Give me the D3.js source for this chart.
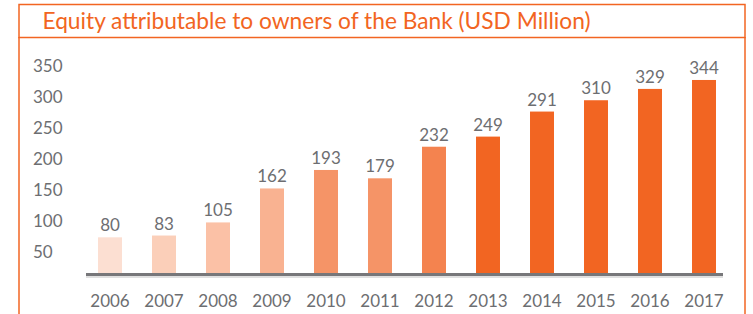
<!DOCTYPE html>
<html>
<head>
<meta charset="utf-8">
<script src="https://cdn.jsdelivr.net/npm/d3@7/dist/d3.min.js"></script>
<style>
  html, body { margin: 0; padding: 0; background: #ffffff; }
  svg { display: block; }
</style>
</head>
<body>
<script>
const titleText = "Equity attributable to owners of the Bank (USD Million)";
const years = ["2006","2007","2008","2009","2010","2011","2012","2013","2014","2015","2016","2017"];
const equity = [80, 83, 105, 162, 193, 179, 232, 249, 291, 310, 329, 344];
const barColors = ["#fcdfd2","#fbcfb9","#fbc1a6","#f9b291","#f59467","#f59467","#f4834f","#f26522","#f26522","#f26522","#f26522","#f26522"];
const yTickLabels = [50, 100, 150, 200, 250, 300, 350];

const W = 753, H = 314;
const orange = "#f26522";
const gray = "#6d6e71";
const font = "Lato, 'Liberation Sans', sans-serif";

const svg = d3.select("body").append("svg").attr("width", W).attr("height", H);

// frame
svg.append("rect").attr("x", 19).attr("y", 4.5).attr("width", 726).attr("height", 33)
  .attr("fill", "none").attr("stroke", orange).attr("stroke-width", 1.5);
svg.append("line").attr("x1", 19).attr("x2", 19).attr("y1", 37).attr("y2", H)
  .attr("stroke", orange).attr("stroke-width", 1.5);
svg.append("line").attr("x1", 745).attr("x2", 745).attr("y1", 37).attr("y2", H)
  .attr("stroke", orange).attr("stroke-width", 1.5);

svg.append("text").attr("x", 42.5).attr("y", 29)
  .attr("font-family", font).attr("font-size", 23).attr("fill", orange)
  .attr("textLength", 548).attr("lengthAdjust", "spacingAndGlyphs")
  .text(titleText);

// scales
const x = d3.scaleBand().domain(years).range([83, 731]).paddingInner(0.556).paddingOuter(0.278);
const y = d3.scaleLinear().domain([0, 350]).range([285, 76.4]);
const yLab = d3.scaleLinear().domain([0, 350]).range([283.4, 66.1]);

// y tick labels (left aligned)
svg.append("g").selectAll("text").data(yTickLabels).join("text")
  .attr("x", 33).attr("y", d => yLab(d)).attr("dy", "0.35em")
  .attr("font-family", font).attr("font-size", 17).attr("fill", gray)
  .text(d => d);

// bars
const baseY = 274.5;
svg.append("g").selectAll("rect").data(equity).join("rect")
  .attr("x", (d, i) => x(years[i]))
  .attr("width", x.bandwidth())
  .attr("y", d => y(d))
  .attr("height", d => baseY - y(d))
  .attr("fill", (d, i) => barColors[i]);

// value labels
svg.append("g").selectAll("text").data(equity).join("text")
  .attr("x", (d, i) => x(years[i]) + x.bandwidth() / 2)
  .attr("y", d => y(d) - 6)
  .attr("text-anchor", "middle")
  .attr("font-family", font).attr("font-size", 17).attr("fill", gray)
  .text(d => d);

// axis line
svg.append("line").attr("x1", 86).attr("x2", 723).attr("y1", baseY + 2.5).attr("y2", baseY + 2.5)
  .attr("stroke", "#d6d6d6").attr("stroke-width", 1.5);
svg.append("line").attr("x1", 86).attr("x2", 723).attr("y1", baseY).attr("y2", baseY)
  .attr("stroke", "#77777a").attr("stroke-width", 3.2);

// x axis labels
const xAxis = d3.axisBottom(x).tickSize(0).tickPadding(0);
const gx = svg.append("g").attr("transform", `translate(0, ${baseY})`).call(xAxis);
gx.select(".domain").remove();
gx.selectAll("text")
  .attr("y", 32).attr("dy", 0)
  .attr("font-family", font).attr("font-size", 17).attr("fill", gray);
</script>
</body>
</html>
